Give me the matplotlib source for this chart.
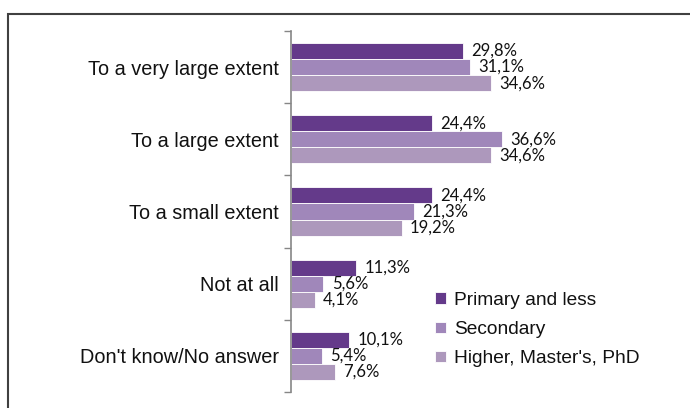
import matplotlib.pyplot as plt
import matplotlib.patches as mpatches
import numpy as np

# Survey answers by education level (percent)
categories = ["To a very large extent", "To a large extent", "To a small extent",
              "Not at all", "Don't know/No answer"]
series_names = ["Primary and less", "Secondary", "Higher, Master's, PhD"]
primary = [29.8, 24.4, 24.4, 11.3, 10.1]
secondary = [31.1, 36.6, 21.3, 5.6, 5.4]
higher = [34.6, 34.6, 19.2, 4.1, 7.6]
colors = ["#643a8a", "#a087ba", "#ad98bc"]

fig = plt.figure(figsize=(6.9, 4.08), dpi=100)
ax = fig.add_axes([291 / 690, 1 - 392 / 408, 346 / 690, 361 / 408])

y = np.arange(len(categories))
h = 0.222
for i, (vals, name, col) in enumerate(zip([primary, secondary, higher], series_names, colors)):
    pos = y + (i - 1) * h
    ax.barh(pos, vals, height=h, color=col, edgecolor="white", linewidth=0.6, label=name)
    for p, v in zip(pos, vals):
        ax.annotate(f"{v:.1f}%".replace(".", ","), (v, p), xytext=(6, 0),
                    textcoords="offset points", va="center", ha="left",
                    fontsize=12, family="Lato", color="#111111")

ax.set_xlim(0, 60)
ax.set_ylim(len(categories) - 0.5, -0.5)
ax.set_yticks(np.arange(len(categories) + 1) - 0.5, minor=False)
ax.set_yticklabels([])
ax.set_yticks(y, minor=True)
ax.set_yticklabels(categories, minor=True, fontsize=14.3, family="Liberation Sans", color="#111111")
ax.tick_params(axis="y", which="minor", length=0, pad=9)
ax.tick_params(axis="y", which="major", length=5, width=1, color="#868686", direction="out")
ax.set_xticks([])
for s in ["top", "right", "bottom"]:
    ax.spines[s].set_visible(False)
ax.spines["left"].set_color("#868686")
ax.spines["left"].set_linewidth(1.2)

leg = ax.legend(loc="upper left", bbox_to_anchor=((435 - 291) / 346, (392 - 292) / 361),
                frameon=False, prop={"family": "Liberation Sans", "size": 13.8},
                handlelength=0.55, handleheight=0.55, handletextpad=0.45,
                labelspacing=0.63, borderaxespad=0, borderpad=0)
for t in leg.get_texts():
    t.set_color("#111111")

# outer chart frame, cut off at the right and bottom edges
fig.patches.append(mpatches.Rectangle((8 / 690, -0.2), 1.5, 1.2 - 14 / 408,
                                      transform=fig.transFigure, fill=False,
                                      edgecolor="#404040", linewidth=1.5))

fig.savefig("out.png", dpi=100)
